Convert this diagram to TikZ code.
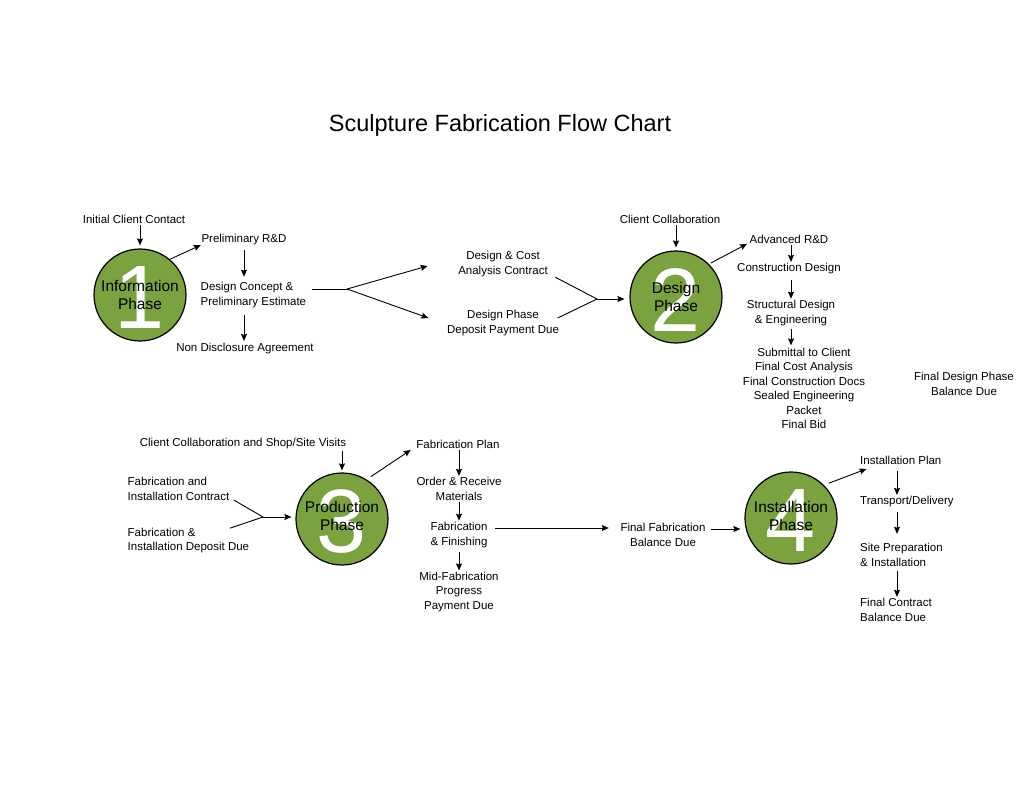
\documentclass[tikz,border=0pt]{standalone}
\usepackage{fontspec}
\setmainfont{Liberation Sans}
\usetikzlibrary{arrows.meta,calc}
\definecolor{phasegreen}{RGB}{122,162,62}
\begin{document}
\begin{tikzpicture}[x=1pt,y=-1pt,
  txt/.style={font=\fontsize{11.5}{14.5}\selectfont, inner sep=1.5pt, align=center},
  ltxt/.style={txt, align=left, anchor=west},
  phase/.style={circle, draw=black, line width=1.2pt, fill=phasegreen, minimum size=92pt, inner sep=0pt},
  digit/.style={font=\fontsize{90}{90}\selectfont, text=white, inner sep=0pt, yshift=-3pt},
  plabel/.style={font=\fontsize{15.5}{18}\selectfont, align=center, inner sep=0pt},
  arr/.style={-{Stealth[length=7pt,width=6pt,inset=1pt]}, line width=0.9pt},
  ln/.style={line width=0.9pt}]
\useasboundingbox (0,0) rectangle (1035,800);

\node[font=\fontsize{23.5}{28}\selectfont] (title) at (500,125) {Sculpture Fabrication Flow Chart};

% ---------- Phase 1 ----------
\node[phase] (c1) at (140,295) {};
\node[digit] (d1) at (c1) {1};
\node[plabel] (l1) at (c1) {Information\\Phase};

\node[txt] (icc) at (134,219) {Initial Client Contact};
\node[txt] (prd) at (244,240) {Preliminary R\&D};
\node[txt, align=left, anchor=west] (dce) at (199,295) {Design Concept \&\\Preliminary Estimate};
\node[txt] (nda) at (245,349) {Non Disclosure Agreement};

\draw[arr, shorten >=3pt] (c1.north |- icc.south) -- (c1.north);
\draw[arr] (c1.50) -- ([shift={(1,-2)}]prd.south west);
\draw[arr, shorten <=3pt, shorten >=4pt] (prd.south) -- (prd.south |- dce.north);
\draw[arr, shorten <=6pt, shorten >=1pt] (prd.south |- dce.south) -- (prd.south |- nda.north);

\coordinate (j1) at (347,289);
\node[txt] (dca) at (503,264) {Design \& Cost\\Analysis Contract};
\node[txt] (dpd) at (503,323) {Design Phase\\Deposit Payment Due};
\draw[ln, shorten <=4pt] (dce.east |- j1) -- (j1);
\draw[arr] (j1) -- ($(dca.west)+(-29,2)$);
\draw[arr] (j1) -- ($(dpd.west)+(-17,-5)$);

\coordinate (j2) at (597,299);
\draw[ln] ($(dca.south east)+(6,-1)$) -- (j2);
\draw[ln] ($(dpd.east)+(-3,-5)$) -- (j2);

% ---------- Phase 2 ----------
\node[phase] (c2) at (676,297) {};
\node[digit] (d2) at (c2) {2};
\node[plabel] (l2) at (c2) {Design\\Phase};

\draw[arr, shorten >=5pt] (j2) -- (c2.west |- j2);

\node[txt] (cc2) at (670,219) {Client Collaboration};
\node[txt] (adv) at (789,239) {Advanced R\&D};
\node[txt] (cd) at (789,269) {Construction Design};
\node[txt] (sde) at (791,313) {Structural Design\\\& Engineering};
\node[txt] (sub) at (804,388.5) {Submittal to Client\\Final Cost Analysis\\Final Construction Docs\\Sealed Engineering\\Packet\\Final Bid};
\node[txt] (fdp) at (964,384) {Final Design Phase\\Balance Due};

\draw[arr, shorten >=3pt] (c2.north |- cc2.south) -- (c2.north);
\draw[arr, shorten <=2pt] (c2.45) -- ([shift={(-1,-1)}]adv.south west);
\draw[arr] ([xshift=2pt]adv.south) -- ([xshift=2pt]cd.north);
\draw[arr, shorten <=4pt] ([xshift=2pt]cd.south) -- (sde.south |- sde.north);
\draw[arr, shorten <=2pt, shorten >=1pt] (sde.south) -- (sde.south |- sub.north);

% ---------- Phase 3 ----------
\node[phase] (c3) at (342,519) {};
\node[digit] (d3) at (c3) {3};
\node[plabel, yshift=3pt] (l3) at (c3) {Production\\Phase};

\node[txt] (ccs) at (243,444) {Client Collaboration and Shop/Site Visits};
\node[ltxt] (fic) at (126,489) {Fabrication and\\Installation Contract};
\node[ltxt] (fid) at (126,540.5) {Fabrication \&\\Installation Deposit Due};

\draw[arr, shorten >=2pt] (c3.north |- ccs.south) -- (c3.north);
\coordinate (j3) at (263,517);
\draw[ln] ($(fic.south east)+(3,-2)$) -- (j3);
\draw[ln] ($(fid.north east)+(-21,2)$) -- (j3);
\draw[arr, shorten >=4pt] (j3) -- (c3.west |- j3);

\node[txt] (fpl) at (458,444) {Fabrication Plan};
\node[txt] (orm) at (459,489) {Order \& Receive\\Materials};
\node[txt] (ffi) at (459,535) {Fabrication\\\& Finishing};
\node[txt] (mfp) at (459,592) {Mid-Fabrication\\Progress\\Payment Due};

\draw[arr, shorten <=5pt] (c3.58) -- ($(fpl.south west)+(-4,0)$);
\draw[arr] (orm.north |- fpl.south) -- (orm.north);
\draw[arr] (orm.south) -- (ffi.north);
\draw[arr, shorten <=3pt] (ffi.south) -- (mfp.north);

\node[txt] (ffb) at (663,535) {Final Fabrication\\Balance Due};
\draw[arr] ($(ffi.east)+(6,-7)$) -- ($(ffb.west)+(-10,-7)$);

% ---------- Phase 4 ----------
\node[phase] (c4) at (791,518) {};
\node[digit] (d4) at (c4) {4};
\node[plabel, yshift=2pt] (l4) at (c4) {Installation\\Phase};

\draw[arr] ($(ffb.east)+(4,-6)$) -- ($(c4.west)+(-4,11)$);

\node[ltxt] (ipl) at (858.5,460) {Installation Plan};
\node[ltxt] (tdl) at (858.5,502) {Transport/Delivery};
\node[ltxt] (spa) at (858.5,555) {Site Preparation\\\& Installation};
\node[ltxt] (fcb) at (858.5,610) {Final Contract\\Balance Due};

\draw[arr, shorten <=5pt] (c4.45) -- ($(ipl.south west)+(8,3)$);
\coordinate (x4) at ($(ipl.south west)+(38.5,0)$);
\draw[arr, shorten <=5pt] (x4 |- ipl.south) -- (x4 |- tdl.north);
\draw[arr, shorten <=3pt, shorten >=8pt] (x4 |- tdl.south) -- (x4 |- spa.north);
\draw[arr, shorten <=3pt] (x4 |- spa.south) -- (x4 |- fcb.north);
\end{tikzpicture}
\end{document}
